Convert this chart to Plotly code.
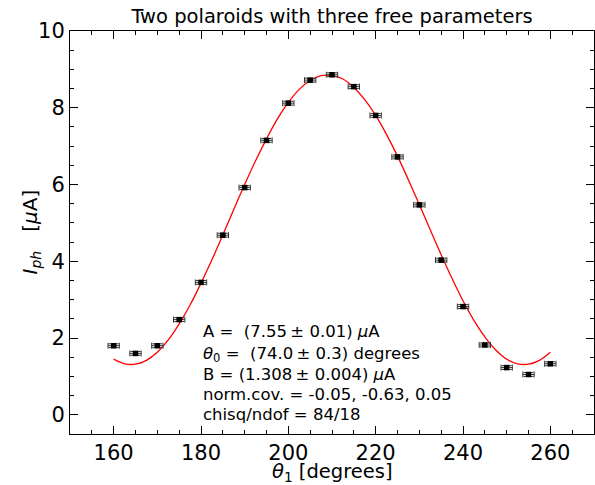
import plotly.graph_objects as go

# Measured data
theta = [160, 165, 170, 175, 180, 185, 190, 195, 200, 205, 210,
         215, 220, 225, 230, 235, 240, 245, 250, 255, 260]
current = [1.80, 1.60, 1.80, 2.48, 3.45, 4.68, 5.92, 7.15, 8.12, 8.72, 8.86,
           8.55, 7.80, 6.72, 5.47, 4.03, 2.82, 1.82, 1.23, 1.05, 1.33]
theta_err = [1.3] * len(theta)
current_err = [0.05] * len(theta)

# Fit curve
fit_theta = [160, 162.5, 165, 167.5, 170, 172.5, 175, 177.5, 180, 182.5, 185,
             187.5, 190, 192.5, 195, 197.5, 200, 202.5, 205, 207.5, 210,
             212.5, 215, 217.5, 220, 222.5, 225, 227.5, 230, 232.5, 235,
             237.5, 240, 242.5, 245, 247.5, 250, 252.5, 255, 257.5, 260]
fit_current = [1.45, 1.33, 1.32, 1.42, 1.63, 1.95, 2.37, 2.86, 3.43, 4.04, 4.69,
               5.35, 6.00, 6.62, 7.19, 7.71, 8.14, 8.48, 8.71, 8.84, 8.84,
               8.75, 8.53, 8.21, 7.80, 7.30, 6.74, 6.12, 5.48, 4.82, 4.17,
               3.55, 2.97, 2.46, 2.03, 1.69, 1.45, 1.33, 1.32, 1.42, 1.63]

fit_lines = [
    "A =  (7.55\u2009\u00b1 0.01) <i>\u03bc</i>A",
    "<i>\u03b8</i><sub>0</sub> =  (74.0\u2009\u00b1 0.3) degrees",
    "B = (1.308\u2009\u00b1 0.004) <i>\u03bc</i>A",
    "norm.cov. = -0.05, -0.63, 0.05",
    "chisq/ndof = 84/18",
]
fit_line_y = [2.17, 1.58, 1.06, 0.54, 0.02]

FONT = "DejaVu Sans"
W, H = 595, 485
L, R, T, B = 70, 1, 31, 51

fig = go.Figure()
fig.add_trace(go.Scatter(
    x=fit_theta, y=fit_current, mode="lines",
    line=dict(color="red", width=1.3, shape="spline"),
    showlegend=False, hoverinfo="skip"))
fig.add_trace(go.Scatter(
    x=theta, y=current, mode="markers",
    marker=dict(symbol="square", size=5.5, color="black"),
    error_x=dict(type="data", array=theta_err, color="#333333", thickness=1, width=3),
    error_y=dict(type="data", array=current_err, color="#333333", thickness=1, width=5),
    showlegend=False))

for txt, yy in zip(fit_lines, fit_line_y):
    fig.add_annotation(x=180, y=yy, xref="x", yref="y", text=txt, showarrow=False,
                       xanchor="left", yanchor="middle",
                       font=dict(family=FONT, size=16.5, color="black"))

# axis titles as annotations for exact placement
fig.add_annotation(x=0.5, y=-(473 - (H - B)) / (H - T - B), xref="x domain", yref="y domain",
                   text="<i>\u03b8</i><sub>1</sub> [degrees]", showarrow=False,
                   xanchor="center", yanchor="middle",
                   font=dict(family=FONT, size=19.5, color="black"))
fig.add_annotation(x=(30 - L) / (W - L - R), y=0.5, xref="x domain", yref="y domain",
                   text="<i>I</i><sub><i>ph</i></sub>   [<i>\u03bc</i>A]", showarrow=False,
                   textangle=-90, xanchor="center", yanchor="middle",
                   font=dict(family=FONT, size=20, color="black"))

axis_common = dict(
    showline=True, linecolor="black", linewidth=1, mirror="allticks",
    ticks="inside", ticklen=8, tickwidth=1, tickcolor="black",
    showgrid=False, zeroline=False, automargin=False,
    tickfont=dict(family=FONT, size=21, color="black"),
)

fig.update_xaxes(range=[150, 270], dtick=20, tick0=0,
                 minor=dict(dtick=5, ticklen=4, ticks="inside", tickcolor="black"),
                 **axis_common)
fig.update_yaxes(range=[-0.5, 10], dtick=2, tick0=0,
                 minor=dict(dtick=0.5, ticklen=4, ticks="inside", tickcolor="black"),
                 **axis_common)

fig.update_layout(
    width=W, height=H,
    margin=dict(l=L, r=R, t=T, b=B, autoexpand=False),
    plot_bgcolor="white", paper_bgcolor="white",
    title=dict(text="Two polaroids with three free parameters",
               x=(L + W - R) / 2 / W, xanchor="center", y=1 - 16 / H, yanchor="middle",
               font=dict(family=FONT, size=19.5, color="black")),
    font=dict(family=FONT, color="black"),
)

fig.write_html("out.html",
               config={"displayModeBar": False},
               post_script="document.body.style.margin='0';document.body.style.overflow='hidden';")
